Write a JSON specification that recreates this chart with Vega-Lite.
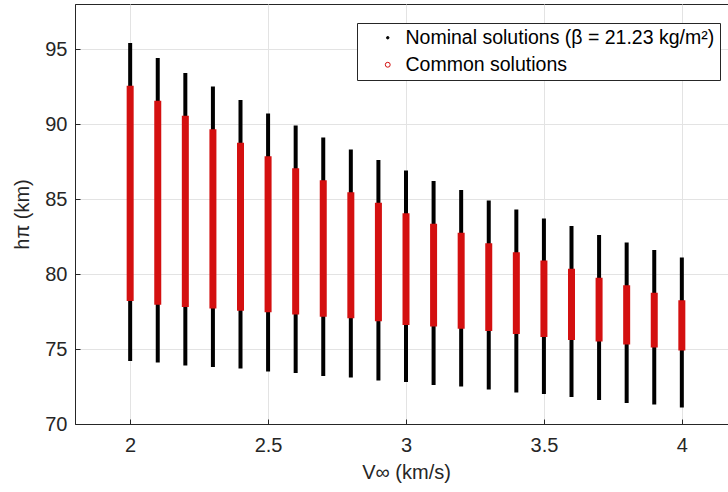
{
  "$schema": "https://vega.github.io/schema/vega-lite/v6.json",
  "autosize": "none",
  "padding": {"left": 75, "top": 4, "right": 0, "bottom": 68},
  "width": 662,
  "height": 420,
  "background": "white",
  "config": {
    "font": "Liberation Sans",
    "view": {"stroke": "#262626", "strokeWidth": 1},
    "axis": {
      "domainColor": "#262626",
      "labelColor": "#262626",
      "titleColor": "#262626",
      "labelFontSize": 20,
      "titleFontSize": 20,
      "titleFontWeight": "normal",
      "gridColor": "#e3e3e3",
      "gridWidth": 1,
      "tickColor": "#262626",
      "tickSize": -5
    }
  },
  "data": {
    "values": [
      {"v": 2.0, "series": "Nominal solutions (β = 21.23 kg/m²)", "lo": 74.2, "hi": 95.4},
      {"v": 2.1, "series": "Nominal solutions (β = 21.23 kg/m²)", "lo": 74.1, "hi": 94.4},
      {"v": 2.2, "series": "Nominal solutions (β = 21.23 kg/m²)", "lo": 73.9, "hi": 93.4},
      {"v": 2.3, "series": "Nominal solutions (β = 21.23 kg/m²)", "lo": 73.8, "hi": 92.5},
      {"v": 2.4, "series": "Nominal solutions (β = 21.23 kg/m²)", "lo": 73.7, "hi": 91.6},
      {"v": 2.5, "series": "Nominal solutions (β = 21.23 kg/m²)", "lo": 73.5, "hi": 90.7},
      {"v": 2.6, "series": "Nominal solutions (β = 21.23 kg/m²)", "lo": 73.4, "hi": 89.9},
      {"v": 2.7, "series": "Nominal solutions (β = 21.23 kg/m²)", "lo": 73.2, "hi": 89.1},
      {"v": 2.8, "series": "Nominal solutions (β = 21.23 kg/m²)", "lo": 73.1, "hi": 88.3},
      {"v": 2.9, "series": "Nominal solutions (β = 21.23 kg/m²)", "lo": 72.9, "hi": 87.6},
      {"v": 3.0, "series": "Nominal solutions (β = 21.23 kg/m²)", "lo": 72.8, "hi": 86.9},
      {"v": 3.1, "series": "Nominal solutions (β = 21.23 kg/m²)", "lo": 72.6, "hi": 86.2},
      {"v": 3.2, "series": "Nominal solutions (β = 21.23 kg/m²)", "lo": 72.5, "hi": 85.6},
      {"v": 3.3, "series": "Nominal solutions (β = 21.23 kg/m²)", "lo": 72.3, "hi": 84.9},
      {"v": 3.4, "series": "Nominal solutions (β = 21.23 kg/m²)", "lo": 72.1, "hi": 84.3},
      {"v": 3.5, "series": "Nominal solutions (β = 21.23 kg/m²)", "lo": 72.0, "hi": 83.7},
      {"v": 3.6, "series": "Nominal solutions (β = 21.23 kg/m²)", "lo": 71.8, "hi": 83.2},
      {"v": 3.7, "series": "Nominal solutions (β = 21.23 kg/m²)", "lo": 71.6, "hi": 82.6},
      {"v": 3.8, "series": "Nominal solutions (β = 21.23 kg/m²)", "lo": 71.4, "hi": 82.1},
      {"v": 3.9, "series": "Nominal solutions (β = 21.23 kg/m²)", "lo": 71.3, "hi": 81.6},
      {"v": 4.0, "series": "Nominal solutions (β = 21.23 kg/m²)", "lo": 71.1, "hi": 81.1},
      {"v": 2.0, "series": "Common solutions", "lo": 78.2, "hi": 92.55},
      {"v": 2.1, "series": "Common solutions", "lo": 77.95, "hi": 91.55},
      {"v": 2.2, "series": "Common solutions", "lo": 77.8, "hi": 90.55},
      {"v": 2.3, "series": "Common solutions", "lo": 77.7, "hi": 89.65},
      {"v": 2.4, "series": "Common solutions", "lo": 77.55, "hi": 88.75},
      {"v": 2.5, "series": "Common solutions", "lo": 77.45, "hi": 87.85},
      {"v": 2.6, "series": "Common solutions", "lo": 77.3, "hi": 87.05},
      {"v": 2.7, "series": "Common solutions", "lo": 77.15, "hi": 86.25},
      {"v": 2.8, "series": "Common solutions", "lo": 77.05, "hi": 85.45},
      {"v": 2.9, "series": "Common solutions", "lo": 76.85, "hi": 84.75},
      {"v": 3.0, "series": "Common solutions", "lo": 76.6, "hi": 84.05},
      {"v": 3.1, "series": "Common solutions", "lo": 76.5, "hi": 83.35},
      {"v": 3.2, "series": "Common solutions", "lo": 76.35, "hi": 82.75},
      {"v": 3.3, "series": "Common solutions", "lo": 76.2, "hi": 82.05},
      {"v": 3.4, "series": "Common solutions", "lo": 76.0, "hi": 81.45},
      {"v": 3.5, "series": "Common solutions", "lo": 75.8, "hi": 80.9},
      {"v": 3.6, "series": "Common solutions", "lo": 75.6, "hi": 80.35},
      {"v": 3.7, "series": "Common solutions", "lo": 75.5, "hi": 79.75},
      {"v": 3.8, "series": "Common solutions", "lo": 75.3, "hi": 79.25},
      {"v": 3.9, "series": "Common solutions", "lo": 75.1, "hi": 78.75},
      {"v": 4.0, "series": "Common solutions", "lo": 74.9, "hi": 78.25}
    ]
  },
  "encoding": {
    "x": {
      "field": "v", "type": "quantitative",
      "scale": {"domain": [1.8, 4.2], "nice": false, "zero": false},
      "axis": {"values": [2, 2.5, 3, 3.5, 4], "format": "~g", "title": "V∞ (km/s)", "labelPadding": 16, "titlePadding": 7}
    },
    "y": {
      "field": "lo", "type": "quantitative",
      "scale": {"domain": [70, 98], "nice": false, "zero": false},
      "axis": {"values": [70, 75, 80, 85, 90, 95], "title": "hπ (km)", "labelPadding": 13, "titlePadding": 12}
    },
    "y2": {"field": "hi"},
    "color": {
      "field": "series", "type": "nominal",
      "scale": {"domain": ["Nominal solutions (β = 21.23 kg/m²)", "Common solutions"], "range": ["#000000", "#d41010"]},
      "legend": {
        "title": null,
        "orient": "none",
        "legendX": 282,
        "legendY": 19,
        "direction": "vertical",
        "fillColor": "white",
        "strokeColor": "#262626",
        "padding": 5,
        "rowPadding": 6,
        "symbolType": "circle",
        "symbolOffset": 16,
        "labelOffset": 8,
        "labelFontSize": 19.5,
        "labelColor": "#000000",
        "labelLimit": 400,
        "encode": {
          "symbols": {
            "update": {
              "fill": {"signal": "datum.value === 'Common solutions' ? 'transparent' : '#000000'"},
              "stroke": {"signal": "datum.value === 'Common solutions' ? '#d41010' : '#000000'"},
              "size": {"signal": "datum.value === 'Common solutions' ? 24 : 6"},
              "strokeWidth": {"value": 1}
            }
          }
        }
      }
    }
  },
  "layer": [
    {
      "transform": [{"filter": "datum.series !== 'Common solutions'"}],
      "mark": {"type": "rule", "strokeWidth": 4}
    },
    {
      "transform": [{"filter": "datum.series === 'Common solutions'"}],
      "mark": {"type": "rule", "strokeWidth": 7}
    }
  ]
}
